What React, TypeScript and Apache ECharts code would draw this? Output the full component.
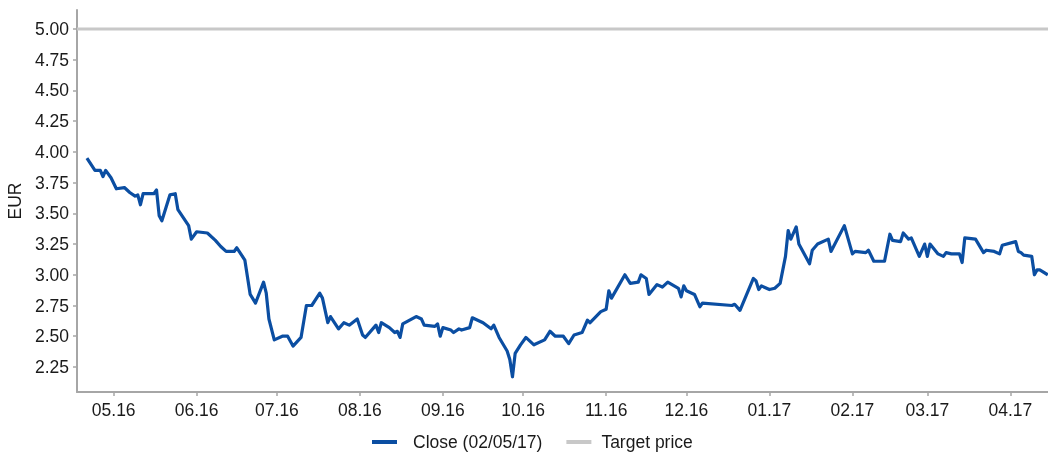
import React, { useEffect, useRef } from "react";
import * as echarts from "echarts";

const DATES: string[] = [
  "2016-04-21","2016-04-24","2016-04-26","2016-04-27","2016-04-28","2016-04-30",
  "2016-05-02","2016-05-05","2016-05-07","2016-05-09","2016-05-10","2016-05-11","2016-05-12","2016-05-16","2016-05-17","2016-05-18","2016-05-19","2016-05-22","2016-05-24","2016-05-25","2016-05-29","2016-05-30",
  "2016-06-01","2016-06-05","2016-06-08","2016-06-10","2016-06-12","2016-06-15","2016-06-16","2016-06-19","2016-06-21","2016-06-23","2016-06-26","2016-06-27","2016-06-28","2016-06-30",
  "2016-07-03","2016-07-05","2016-07-07","2016-07-10","2016-07-12","2016-07-14","2016-07-17","2016-07-18","2016-07-20","2016-07-21","2016-07-24","2016-07-26","2016-07-28","2016-07-31",
  "2016-08-02","2016-08-03","2016-08-07","2016-08-08","2016-08-09","2016-08-12","2016-08-14","2016-08-15","2016-08-16","2016-08-17","2016-08-22","2016-08-24","2016-08-25","2016-08-29","2016-08-30","2016-08-31",
  "2016-09-01","2016-09-04","2016-09-05","2016-09-07","2016-09-08","2016-09-11","2016-09-12","2016-09-16","2016-09-19","2016-09-20","2016-09-22","2016-09-25","2016-09-26","2016-09-27","2016-09-28","2016-09-30",
  "2016-10-02","2016-10-05","2016-10-09","2016-10-11","2016-10-13","2016-10-16","2016-10-18","2016-10-20","2016-10-23","2016-10-25","2016-10-26","2016-10-30",
  "2016-11-01","2016-11-02","2016-11-03","2016-11-08","2016-11-10","2016-11-13","2016-11-14","2016-11-16","2016-11-17","2016-11-20","2016-11-22","2016-11-24","2016-11-28","2016-11-29","2016-11-30",
  "2016-12-01","2016-12-04","2016-12-06","2016-12-07","2016-12-18","2016-12-19","2016-12-21","2016-12-26","2016-12-27","2016-12-28","2016-12-29",
  "2017-01-01","2017-01-03","2017-01-05","2017-01-07","2017-01-08","2017-01-09","2017-01-11","2017-01-12","2017-01-16","2017-01-17","2017-01-19","2017-01-23","2017-01-24","2017-01-29",
  "2017-02-01","2017-02-02","2017-02-06","2017-02-07","2017-02-09","2017-02-13","2017-02-15","2017-02-16","2017-02-19","2017-02-20","2017-02-22","2017-02-23","2017-02-26","2017-02-28",
  "2017-03-01","2017-03-02","2017-03-05","2017-03-07","2017-03-08","2017-03-10","2017-03-13","2017-03-14","2017-03-15","2017-03-19","2017-03-22","2017-03-23","2017-03-26","2017-03-28","2017-03-29",
  "2017-04-03","2017-04-04","2017-04-05","2017-04-06","2017-04-09","2017-04-10","2017-04-11","2017-04-12","2017-04-15",
];

const CLOSE: number[] = [
  3.95,3.85,3.85,3.80,3.85,3.79,
  3.70,3.71,3.67,3.64,3.65,3.57,3.66,3.66,3.69,3.48,3.44,3.65,3.66,3.53,3.40,3.29,
  3.35,3.34,3.28,3.23,3.19,3.19,3.22,3.12,2.84,2.77,2.94,2.85,2.64,2.47,
  2.50,2.50,2.42,2.49,2.75,2.75,2.85,2.81,2.61,2.66,2.56,2.61,2.59,2.64,
  2.51,2.49,2.59,2.53,2.61,2.57,2.53,2.54,2.49,2.60,2.66,2.64,2.59,2.58,2.60,2.50,
  2.57,2.55,2.53,2.56,2.55,2.57,2.65,2.61,2.56,2.59,2.49,2.38,2.31,2.17,2.36,2.43,
  2.49,2.43,2.47,2.54,2.50,2.50,2.44,2.51,2.53,2.63,2.61,2.70,
  2.72,2.87,2.81,3.00,2.93,2.94,3.00,2.97,2.84,2.92,2.90,2.94,2.89,2.82,2.91,
  2.87,2.84,2.74,2.77,2.75,2.76,2.71,2.97,2.95,2.88,2.91,
  2.88,2.89,2.93,3.15,3.36,3.29,3.39,3.25,3.09,3.20,3.25,3.29,3.19,3.40,
  3.17,3.19,3.18,3.20,3.11,3.11,3.33,3.28,3.27,3.34,3.29,3.30,3.15,3.25,
  3.15,3.25,3.17,3.15,3.18,3.17,3.17,3.10,3.30,3.29,3.18,3.20,3.19,3.17,3.24,
  3.27,3.19,3.18,3.16,3.15,3.00,3.04,3.04,3.00,
];

const TARGET_PRICE: number[] = [5.0, 5.0];
const MONTH_TICKS: string[] = [
  "2016-05-01","2016-06-01","2016-07-01","2016-08-01","2016-09-01","2016-10-01",
  "2016-11-01","2016-12-01","2017-01-01","2017-02-01","2017-03-01","2017-04-01",
];
const Y_TICKS: number[] = [2.25, 2.5, 2.75, 3.0, 3.25, 3.5, 3.75, 4.0, 4.25, 4.5, 4.75, 5.0];
const X_START = "2016-04-17T07:00:00Z";
const X_END = "2017-04-15T02:00:00Z";
const Y_MIN = 2.046;
const Y_MAX = 5.155;

const SERIES_CLOSE = "Close (02/05/17)";
const SERIES_TARGET = "Target price";

const FONT = "'Liberation Sans', Arial, sans-serif";
const TEXT_COLOR = "#1a1a1a";
const AXIS_COLOR = "#a6a6a6";

export default function App() {
  const ref = useRef<HTMLDivElement>(null);
  useEffect(() => {
    if (!ref.current) return;
    const chart = echarts.init(ref.current, undefined, { renderer: "svg" });
    const xMin = Date.parse(X_START);
    const xMax = Date.parse(X_END);
    const closeData = DATES.map((d, i) => [Date.parse(d), CLOSE[i]]);
    const targetData = [
      [xMin, TARGET_PRICE[0]],
      [xMax, TARGET_PRICE[1]],
    ];
    const tickVals = MONTH_TICKS.map((d) => Date.parse(d));
    const fmtMonth = (v: number) => {
      const dt = new Date(v);
      const m = String(dt.getUTCMonth() + 1).padStart(2, "0");
      const y = String(dt.getUTCFullYear() % 100).padStart(2, "0");
      return `${m}.${y}`;
    };
    chart.setOption({
      animation: false,
      textStyle: { fontFamily: FONT },
      grid: {
        left: 77,
        right: 0,
        top: 10,
        bottom: 61,
        containLabel: false,
        outerBoundsMode: "none",
      },
      legend: {
        left: 367,
        top: 428,
        icon: "rect",
        itemWidth: 25,
        itemHeight: 4,
        itemGap: 24,
        textStyle: { fontSize: 17.5, color: TEXT_COLOR, fontFamily: FONT },
        data: [
          { name: SERIES_CLOSE, textStyle: { padding: [0, 0, 0, 11] } },
          { name: SERIES_TARGET, textStyle: { padding: [0, 0, 0, 5] } },
        ],
      },
      xAxis: {
        type: "value",
        min: xMin,
        max: xMax,
        axisLine: { show: true, lineStyle: { color: AXIS_COLOR, width: 2 } },
        axisTick: {
          show: true,
          length: 4,
          customValues: tickVals,
          lineStyle: { color: AXIS_COLOR, width: 1.5 },
        },
        axisLabel: {
          customValues: tickVals,
          formatter: (v: number) => fmtMonth(v),
          fontSize: 17.5,
          color: TEXT_COLOR,
          margin: 9,
          fontFamily: FONT,
        },
        splitLine: { show: false },
      },
      yAxis: {
        type: "value",
        min: Y_MIN,
        max: Y_MAX,
        name: "EUR",
        nameLocation: "middle",
        nameGap: 50,
        nameTextStyle: { fontSize: 17.5, color: TEXT_COLOR, fontFamily: FONT },
        axisLine: { show: true, lineStyle: { color: AXIS_COLOR, width: 2 } },
        axisTick: {
          show: true,
          length: 4,
          customValues: Y_TICKS,
          lineStyle: { color: AXIS_COLOR, width: 1.5 },
        },
        axisLabel: {
          customValues: Y_TICKS,
          formatter: (v: number) => v.toFixed(2),
          fontSize: 17.5,
          color: TEXT_COLOR,
          margin: 8,
          fontFamily: FONT,
        },
        splitLine: { show: false },
      },
      series: [
        {
          name: SERIES_CLOSE,
          type: "line",
          data: closeData,
          showSymbol: false,
          symbol: "none",
          color: "#0b4ea2",
          lineStyle: { color: "#0b4ea2", width: 3.2, join: "round" },
          z: 3,
        },
        {
          name: SERIES_TARGET,
          type: "line",
          data: targetData,
          showSymbol: false,
          symbol: "none",
          color: "#c8c8c8",
          lineStyle: { color: "#c8c8c8", width: 3 },
          z: 2,
        },
      ],
    });
    return () => chart.dispose();
  }, []);
  return (
    <div
      ref={ref}
      style={{ position: "fixed", left: 0, top: 0, width: 1048, height: 453 }}
    />
  );
}
